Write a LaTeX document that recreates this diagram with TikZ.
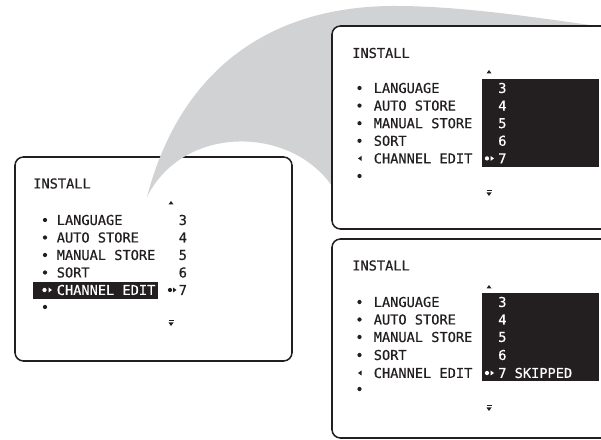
\documentclass[tikz,border=0pt]{standalone}
\usepackage{fontspec}
\newfontfamily\osdfont[FakeBold=0.5]{DejaVu Sans Mono}
\definecolor{ink}{RGB}{35,31,32}
\definecolor{fan}{RGB}{209,210,212}
\tikzset{
  screen/.style={draw=ink, line width=1.1pt, rounded corners=6pt, fill=white},
  osd/.style={font=\osdfont\fontsize{9.7}{12}\selectfont, text=ink, inner sep=0pt, anchor=west},
  osdinv/.style={osd, text=white},
}
% small screen glyphs
\newcommand{\bul}[2][ink]{\fill[#1] (#2) circle[radius=1.5pt];}
\newcommand{\upmark}[1]{\fill[ink] (#1) ++(-2.5,1.5) -- ++(5,0) -- ++(-2.5,-3.5) -- cycle;}
\newcommand{\downmark}[1]{\fill[ink] (#1) ++(-2.5,-0.5) -- ++(5,0) -- ++(-2.5,3.5) -- cycle;
  \draw[ink, line width=0.6pt] (#1) ++(-2.5,-2.5) -- ++(5,0);}
\newcommand{\rtri}[2][ink]{\fill[#1] (#2) ++(-1.5,-2.5) -- ++(0,5) -- ++(3.5,-2.5) -- cycle;}
\newcommand{\ltri}[2][ink]{\fill[#1] (#2) ++(1.5,-2.5) -- ++(0,5) -- ++(-3.5,-2.5) -- cycle;}
\begin{document}
\begin{tikzpicture}[x=0.025cm, y=-0.025cm]
  \clip (0,0) rectangle (601,440);

  % left screen
  \begin{scope}[shift={(15,157)}]
    \draw[screen] (0,0) rectangle (277,204);
    \node[osd] (l-title) at (18,26.5) {INSTALL};
    \upmark{156,46}
    \bul{30,63}  \node[osd] (l-lang) at (41.5,63) {LANGUAGE};
    \node[osd] (l-n3) at (163.5,63) {3};
    \bul{30,80.5}  \node[osd] (l-auto) at (41.5,80.5) {AUTO STORE};
    \node[osd] (l-n4) at (163.5,80.5) {4};
    \bul{30,98}  \node[osd] (l-manual) at (41.5,98) {MANUAL STORE};
    \node[osd] (l-n5) at (163.5,98) {5};
    \bul{30,115.5}  \node[osd] (l-sort) at (41.5,115.5) {SORT};
    \node[osd] (l-n6) at (163.5,115.5) {6};
    \fill[ink] (18,125) rectangle (143,142);
    \bul[white]{29.5,133}  \rtri[white]{35,133}
    \node[osdinv] (l-edit) at (41.5,133) {CHANNEL EDIT};
    \bul{155,133}  \rtri{159.5,133}
    \node[osd] (l-n7) at (163.5,133) {7};
    \bul{30,150}
    \downmark{156,166}
  \end{scope}

  % fan from the left screen to the right ones
  \fill[fan] (147,197) .. controls (180,70) and (270,5) .. (397,6)
    .. controls (460,6) and (540,18) .. (590,25) -- (625,32) -- (625,200)
    -- (340,200) .. controls (305,125) and (185,120) .. (147,197) -- cycle;

  % upper right screen
  \begin{scope}[shift={(332,26)}]
    \draw[screen] (0,0) rectangle (290,203);
    \node[osd] (t-title) at (20,27) {INSTALL};
    \upmark{157,46}
    \fill[ink] (150,53) rectangle (267,141);
    \bul{27.5,62}  \node[osd] (t-lang) at (41.5,62) {LANGUAGE};
    \node[osdinv] (t-n3) at (166,62) {3};
    \bul{27.5,79.6}  \node[osd] (t-auto) at (41.5,79.6) {AUTO STORE};
    \node[osdinv] (t-n4) at (166,79.6) {4};
    \bul{27.5,97.2}  \node[osd] (t-manual) at (41.5,97.2) {MANUAL STORE};
    \node[osdinv] (t-n5) at (166,97.2) {5};
    \bul{27.5,114.8}  \node[osd] (t-sort) at (41.5,114.8) {SORT};
    \node[osdinv] (t-n6) at (166,114.8) {6};
    \ltri{28,132.4}  \node[osd] (t-edit) at (41.5,132.4) {CHANNEL EDIT};
    \bul[white]{155,132.4}  \rtri[white]{160,132.4}
    \node[osdinv] (t-n7) at (166,132.4) {7};
    \bul{27.5,150}
    \downmark{157,167}
  \end{scope}

  % lower right screen
  \begin{scope}[shift={(332,239)}]
    \draw[screen] (0,0) rectangle (290,199);
    \node[osd] (b-title) at (20,26.5) {INSTALL};
    \upmark{157,48}
    \fill[ink] (150,54) rectangle (267,142);
    \bul{27.5,63}  \node[osd] (b-lang) at (41.5,63) {LANGUAGE};
    \node[osdinv] (b-n3) at (166,63) {3};
    \bul{27.5,80.5}  \node[osd] (b-auto) at (41.5,80.5) {AUTO STORE};
    \node[osdinv] (b-n4) at (166,80.5) {4};
    \bul{27.5,98}  \node[osd] (b-manual) at (41.5,98) {MANUAL STORE};
    \node[osdinv] (b-n5) at (166,98) {5};
    \bul{27.5,116}  \node[osd] (b-sort) at (41.5,116) {SORT};
    \node[osdinv] (b-n6) at (166,116) {6};
    \ltri{28,134}  \node[osd] (b-edit) at (41.5,134) {CHANNEL EDIT};
    \bul[white]{155,134}  \rtri[white]{160,134}
    \node[osdinv] (b-n7) at (166,134) {7 SKIPPED};
    \bul{27.5,150}
    \downmark{157,169}
  \end{scope}
\end{tikzpicture}
\end{document}
